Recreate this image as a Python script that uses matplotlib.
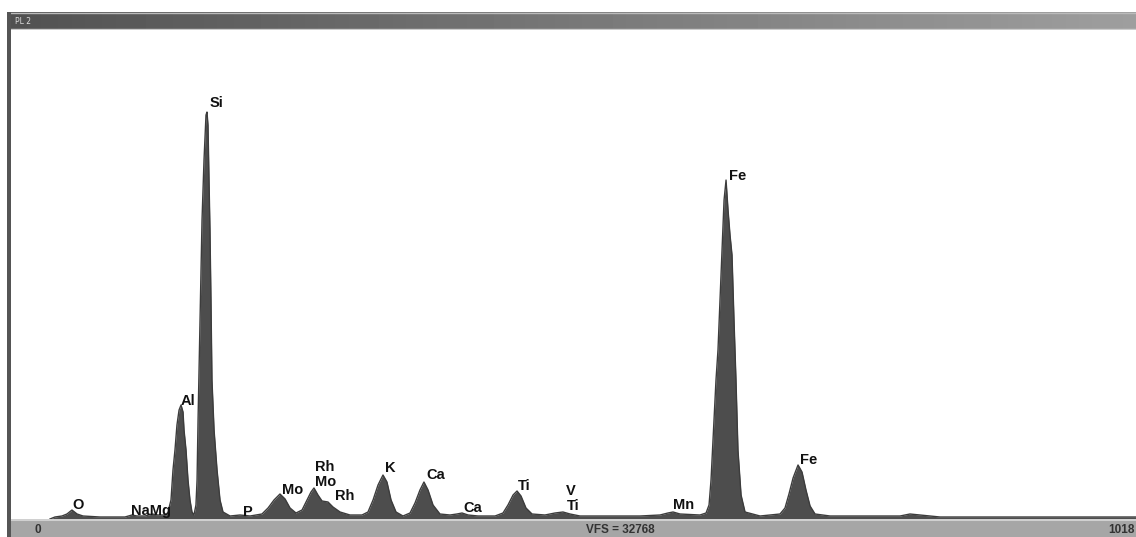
import numpy as np
import matplotlib
matplotlib.use('Agg')
import matplotlib.pyplot as plt

# === Spectrum outline (channel, counts) ===
channel = [34.4, 38.9, 45.3, 49.8, 54.3, 58.9, 64.3, 79.7, 102.3, 108.7,
           113.2, 120.5, 126.8, 132.2, 139.5, 141.3, 144.0, 145.8, 147.6, 149.4,
           151.3, 153.1, 154.9, 155.8, 157.6, 159.4, 161.2, 163.0, 164.8, 166.6,
           167.6, 168.5, 170.3, 172.1, 173.9, 175.7, 176.6, 177.5, 178.4, 179.3,
           180.2, 181.1, 183.0, 185.7, 188.4, 191.1, 197.5, 206.5, 215.6, 226.4,
           231.9, 237.3, 242.7, 247.3, 251.8, 257.2, 262.7, 267.2, 270.8, 273.5,
           277.1, 280.8, 286.2, 290.7, 297.1, 306.1, 317.0, 322.4, 327.0, 331.5,
           336.0, 339.6, 343.3, 347.8, 354.1, 360.5, 365.0, 369.5, 373.1, 376.8,
           381.3, 387.6, 396.7, 403.0, 407.6, 413.0, 422.1, 437.5, 444.7, 449.2,
           453.8, 457.4, 461.0, 465.5, 471.0, 482.7, 491.8, 499.0, 505.4, 514.4,
           568.8, 586.9, 594.1, 598.7, 605.0, 623.1, 628.6, 631.3, 633.1, 635.8,
           637.6, 639.4, 641.2, 643.0, 644.9, 646.7, 648.5, 650.3, 652.1, 653.9,
           655.7, 657.5, 660.3, 663.9, 677.5, 695.6, 700.1, 703.7, 707.4, 711.9,
           715.5, 719.1, 722.8, 727.3, 740.9, 804.3, 813.3, 822.4, 840.5, 1018]
counts = [0, 134, 201, 335, 603, 335, 201, 134, 134, 268,
          201, 201, 335, 268, 268, 469, 1273, 3283, 4623, 6298,
          7303, 7638, 7169, 5963, 4623, 2613, 1273, 469, 268, 938,
          2613, 6633, 13333, 20033, 24053, 27068, 27269, 26398, 22713, 19363,
          14673, 9313, 5963, 3283, 1273, 469, 201, 268, 201, 335,
          737, 1273, 1675, 1340, 737, 402, 603, 1273, 1809, 2077,
          1608, 1206, 1139, 804, 469, 268, 268, 469, 1273, 2278,
          2948, 2479, 1273, 469, 201, 402, 1072, 1943, 2479, 1943,
          938, 335, 268, 335, 402, 268, 201, 201, 402, 938,
          1608, 1876, 1541, 737, 335, 268, 402, 469, 335, 201,
          201, 268, 402, 469, 335, 268, 402, 938, 2613, 6633,
          9313, 11323, 14673, 18023, 21373, 22713, 20703, 19028, 17688, 13333,
          9313, 4623, 1608, 469, 201, 335, 737, 1675, 2747, 3618,
          3149, 1943, 871, 335, 201, 201, 335, 268, 134, 134]

# Element labels (text, channel, counts)
label_text = ['O', 'NaMg', 'Al', 'Si', 'P', 'Mo', 'Rh', 'Mo', 'Rh', 'K', 'Ca',
              'Ca', 'Ti', 'V', 'Ti', 'Mn', 'Fe', 'Fe']
label_ch = [59.8, 126, 159.4, 184.8, 213.7, 254.5, 283.5, 284.4, 301.6, 342.4,
            384.0, 417.5, 463.7, 506.3, 508.1, 608.6, 657.5, 721.8]
label_cnt = [938, 536, 7906, 27872, 469, 1943, 3484, 2479, 1541, 3417,
             2948, 737, 2211, 1876, 871, 938, 22981, 3953]

full_scale = 32768
max_channel = 1018

W, H = 1136, 537
fig = plt.figure(figsize=(W / 100, H / 100), dpi=100)
fig.patch.set_facecolor('white')

# === Spectrum axes ===
ax = fig.add_axes([12 / W, (H - 519) / H, (W - 12) / W, (519 - 30) / H])
ax.fill_between(channel, counts, 0, color='#4d4d4d', lw=0)
ax.plot(channel, counts, color='#3c3c3c', lw=1.0)
ax.set_xlim(0, max_channel)
ax.set_ylim(0, full_scale)
ax.axis('off')

for t, x, y in zip(label_text, label_ch, label_cnt):
    ax.text(x, y, t, ha='center', va='center', fontsize=10.5,
            fontweight='bold', color='#111111', family='Liberation Sans')

# === Title bar ===
bar = fig.add_axes([10 / W, (H - 30) / H, (W - 10) / W, 18 / H])
grad = np.linspace(0.32, 0.62, 256).reshape(1, -1)
bar.imshow(grad, aspect='auto', cmap='gray', vmin=0, vmax=1, extent=[0, 1, 0, 1])
bar.axhline(0.95, color='#bbbbbb', lw=1)
bar.axhline(0.03, color='#cccccc', lw=1)
bar.text(0.004, 0.5, 'PL 2', color='#dddddd', fontsize=5.5, va='center',
         ha='left', transform=bar.transAxes)
bar.axis('off')

# === Bottom bar ===
bot = fig.add_axes([10 / W, 0, (W - 10) / W, 18 / H])
bot.set_facecolor('#a6a6a6')
bot.set_xlim(0, 1)
bot.set_ylim(0, 1)
bot.axhline(0.97, color='#d0d0d0', lw=1.5)
bot.text(28 / (W - 10), 0.4, '0', fontsize=8.5, fontweight='bold', color='#333333',
         ha='center', va='center', family='Liberation Sans')
bot.text(610 / (W - 10), 0.4, 'VFS = 32768', fontsize=8.5, fontweight='bold',
         color='#333333', ha='center', va='center', family='Liberation Sans')
bot.text(0.999, 0.4, '1018', fontsize=8.5, fontweight='bold', color='#333333',
         ha='right', va='center', family='Liberation Sans')
bot.set_xticks([])
bot.set_yticks([])
for s in bot.spines.values():
    s.set_visible(False)

# Left frame border
border = fig.add_axes([7 / W, 0, 4 / W, (H - 12) / H])
border.set_facecolor('#555555')
border.set_xticks([])
border.set_yticks([])
for s in border.spines.values():
    s.set_visible(False)

fig.savefig('out.png', dpi=100)
